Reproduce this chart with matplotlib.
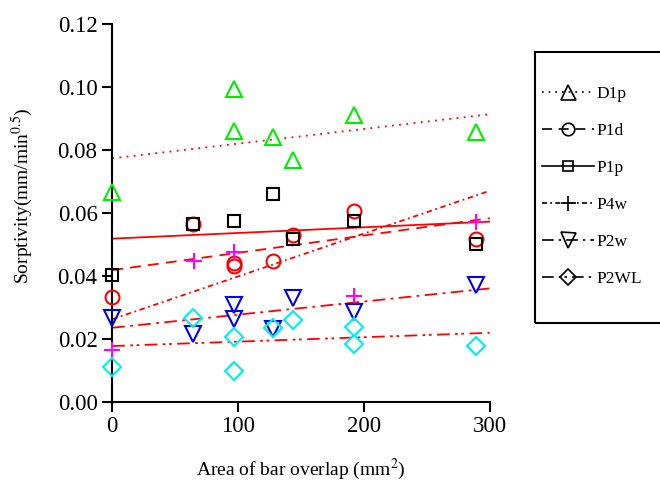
import numpy as np
import matplotlib
matplotlib.use('Agg')
import matplotlib.pyplot as plt
from matplotlib.lines import Line2D
from matplotlib.patches import Rectangle

plt.rcParams['font.family'] = ['Liberation Serif', 'DejaVu Serif']
plt.rcParams['mathtext.fontset'] = 'stix'

# measured sorptivity for each mix, by area of bar overlap
d1p_x = [0, 97, 97, 128, 144, 192, 289]
d1p_y = [0.0665, 0.0993, 0.0860, 0.0842, 0.0768, 0.0912, 0.0856]
p1d_x = [0, 64, 97, 97, 128, 144, 192, 289]
p1d_y = [0.0333, 0.0563, 0.0442, 0.0432, 0.0446, 0.0531, 0.0606, 0.0518]
p1p_x = [0, 64, 97, 128, 144, 192, 289]
p1p_y = [0.0403, 0.0563, 0.0575, 0.0660, 0.0516, 0.0575, 0.0500]
p4w_x = [0, 65, 97, 192, 289]
p4w_y = [0.0164, 0.0448, 0.0475, 0.0335, 0.0572]
p2w_x = [0, 64, 97, 97, 128, 144, 192, 289]
p2w_y = [0.0266, 0.0215, 0.0306, 0.0264, 0.0230, 0.0330, 0.0285, 0.0372]
p2wl_x = [0, 64, 97, 97, 128, 144, 192, 192, 289]
p2wl_y = [0.0112, 0.0265, 0.0207, 0.0099, 0.0233, 0.0259, 0.0239, 0.0182, 0.0176]

# fitted trend lines, start and end values
trend_x = [0, 300]
d1p_fit = [0.0773, 0.0913]
p1d_fit = [0.0418, 0.0583]
p1p_fit = [0.0518, 0.0572]
p4w_fit = [0.0262, 0.0670]
p2w_fit = [0.0235, 0.0360]
p2wl_fit = [0.0177, 0.0219]

labels = ['D1p', 'P1d', 'P1p', 'P4w', 'P2w', 'P2WL']

fig = plt.figure(figsize=(6.6, 4.87), dpi=100)
ax = fig.add_axes([0.17, 0.175, 0.572, 0.776])

series = [
    (d1p_x, d1p_y, '^', '#00ee00', 12),
    (p1d_x, p1d_y, 'o', '#ff0000', 10),
    (p1p_x, p1p_y, 's', '#000000', 8.5),
    (p4w_x, p4w_y, '+', '#ff00ff', 12),
    (p2w_x, p2w_y, 'v', '#0000ee', 12),
    (p2wl_x, p2wl_y, 'D', '#00eeee', 9),
]
for x, y, m, c, ms in series:
    ax.plot(x, y, linestyle='none', marker=m, ms=ms, mfc='none', mec=c,
            mew=1.5, clip_on=False, zorder=3)

styles = [
    (d1p_fit, (0, (1, 3))),
    (p1d_fit, (0, (6, 4))),
    (p1p_fit, '-'),
    (p4w_fit, (0, (3, 2, 1, 2))),
    (p2w_fit, (0, (7, 3, 1.5, 3))),
    (p2wl_fit, (0, (7, 3, 1.5, 2, 1.5, 3))),
]
for fit, ls in styles:
    ax.plot(trend_x, fit, color='red', linestyle=ls, lw=1.3, zorder=2)

ax.set_xlim(0, 300)
ax.set_ylim(0, 0.12)
ax.set_xticks([0, 100, 200, 300])
ax.set_yticks(np.arange(0, 0.121, 0.02))
ax.yaxis.set_major_formatter(matplotlib.ticker.FormatStrFormatter('%.2f'))
ax.spines['top'].set_visible(False)
ax.spines['right'].set_visible(False)
for s in ['left', 'bottom']:
    ax.spines[s].set_linewidth(1.5)
ax.tick_params(direction='out', length=7, width=1.5, labelsize=16.5)
ax.set_xlabel('Area of bar overlap (mm$^2$)', fontsize=14, labelpad=14)
ax.set_ylabel('Sorptivity(mm/min$^{0.5}$)', fontsize=14)
ax.yaxis.set_label_coords(-0.205, 0.545)

# legend entries drawn in black, inside a plain box
handles = []
for (x, y, m, c, ms), (fit, ls) in zip(series, styles):
    handles.append(Line2D([], [], color='black', linestyle=ls, lw=1.2,
                          marker=m, ms=ms * 0.9, mfc='none', mec='black',
                          mew=1.2))
leg = fig.legend(handles, labels, loc='upper left',
                 bbox_to_anchor=(542 / 660, 1 - 86 / 487), fontsize=12.5,
                 handlelength=3.0, handletextpad=0.15, labelspacing=1.2,
                 borderpad=0, borderaxespad=0, frameon=False)
fig.patches.append(Rectangle((535 / 660, 1 - 323 / 487), 0.25, 271 / 487,
                             transform=fig.transFigure, fill=False,
                             edgecolor='black', lw=1.5))

fig.savefig('out.png', dpi=100)
